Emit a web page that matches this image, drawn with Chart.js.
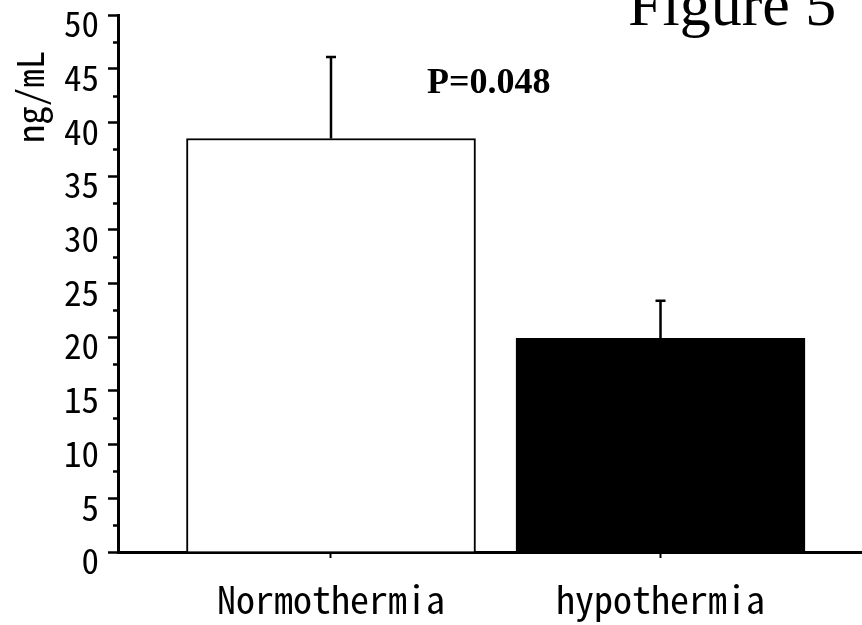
<!DOCTYPE html>
<html>
<head>
<meta charset="utf-8">
<script src="https://cdn.jsdelivr.net/npm/chart.js@4/dist/chart.umd.min.js"></script>
<style>
  html, body { margin: 0; padding: 0; background: #fff; }
  #wrap { width: 862px; height: 625px; position: relative; }
</style>
</head>
<body>
<div id="wrap"><canvas id="chart"></canvas></div>
<script>
var categories = ['Normothermia', 'hypothermia'];
var means = [38.5, 19.9];
var errors = [7.6, 3.5];
var barColors = ['#ffffff', '#000000'];
var yMin = 0;
var yMax = 50;
var yStep = 5;
var minorValues = [2.5, 7.5, 12.5, 17.5, 22.5, 27.5, 32.5, 37.5, 42.5, 47.5];
var pLabel = 'P=0.048';
var yTitle = 'ng/mL';
var figTitle = 'Figure 5';

var gothic = "'Noto Sans Mono CJK JP', 'DejaVu Sans Condensed', 'Liberation Sans', sans-serif";
var serif = "'Liberation Serif', 'Times New Roman', serif";

var extras = {
    id: 'extras',
    afterDatasetsDraw: function(chart) {
        var ctx = chart.ctx;
        var x = chart.scales.x, y = chart.scales.y;
        var area = chart.chartArea;
        ctx.save();
        ctx.strokeStyle = '#000';
        ctx.lineWidth = 2.5;
        // error bars, upper only
        means.forEach(function(m, i) {
            var px = x.getPixelForValue(i + 1);
            var top = y.getPixelForValue(m + errors[i]);
            var base = y.getPixelForValue(m);
            ctx.beginPath();
            ctx.moveTo(px, base);
            ctx.lineTo(px, top);
            ctx.moveTo(px - 5, top);
            ctx.lineTo(px + 5, top);
            ctx.stroke();
        });
        // minor ticks
        minorValues.forEach(function(v) {
            var py = Math.round(y.getPixelForValue(v)) + 0.5;
            ctx.beginPath();
            ctx.moveTo(area.left - 5, py);
            ctx.lineTo(area.left, py);
            ctx.stroke();
        });
        ctx.fillStyle = '#000';
        ctx.font = 'bold 36px ' + serif;
        ctx.textAlign = 'left';
        ctx.textBaseline = 'alphabetic';
        ctx.fillText(pLabel, 427, 93);
        ctx.font = '62px ' + serif;
        ctx.fillText(figTitle, 628, 25);
        ctx.translate(30, 97);
        ctx.rotate(-Math.PI / 2);
        ctx.font = '37px ' + gothic;
        ctx.textAlign = 'center';
        ctx.textBaseline = 'middle';
        ctx.fillText(yTitle, 0, 0);
        ctx.restore();
    }
};

new Chart(document.getElementById('chart').getContext('2d'), {
    type: 'bar',
    data: {
        datasets: [{
            data: means.map(function(m, i) { return { x: i + 1, y: m }; }),
            backgroundColor: barColors,
            borderColor: '#000',
            borderWidth: 2,
            barThickness: 289
        }]
    },
    options: {
        responsive: true,
        maintainAspectRatio: false,
        animation: false,
        layout: { padding: { top: 15, right: 0, bottom: 0, left: 0 } },
        plugins: { legend: { display: false }, tooltip: { enabled: false } },
        scales: {
            x: {
                type: 'linear',
                offset: false,
                min: 0.3536,
                max: 2.6115,
                afterBuildTicks: function(scale) {
                    scale.ticks = categories.map(function(c, i) { return { value: i + 1 }; });
                },
                afterFit: function(scale) {
                    scale.height = 73;
                    scale.paddingLeft = 0;
                    scale.paddingRight = 0;
                },
                border: { color: '#000', width: 3 },
                grid: { offset: false, drawOnChartArea: false, tickLength: 6, tickWidth: 2, tickColor: '#000' },
                ticks: {
                    color: '#000',
                    font: { family: gothic, size: 38 },
                    padding: 19,
                    autoSkip: false,
                    maxRotation: 0,
                    callback: function(v) { return categories[Math.round(v) - 1]; }
                }
            },
            y: {
                min: yMin,
                max: yMax,
                afterFit: function(scale) {
                    scale.width = 118;
                    scale.paddingTop = 0;
                    scale.paddingBottom = 0;
                },
                border: { color: '#000', width: 3 },
                grid: { drawOnChartArea: false, tickLength: 10, tickWidth: 2.5, tickColor: '#000' },
                ticks: {
                    stepSize: yStep,
                    color: '#000',
                    font: { family: gothic, size: 35 },
                    padding: 9,
                    labelOffset: 9
                }
            }
        }
    },
    plugins: [extras]
});
</script>
</body>
</html>
